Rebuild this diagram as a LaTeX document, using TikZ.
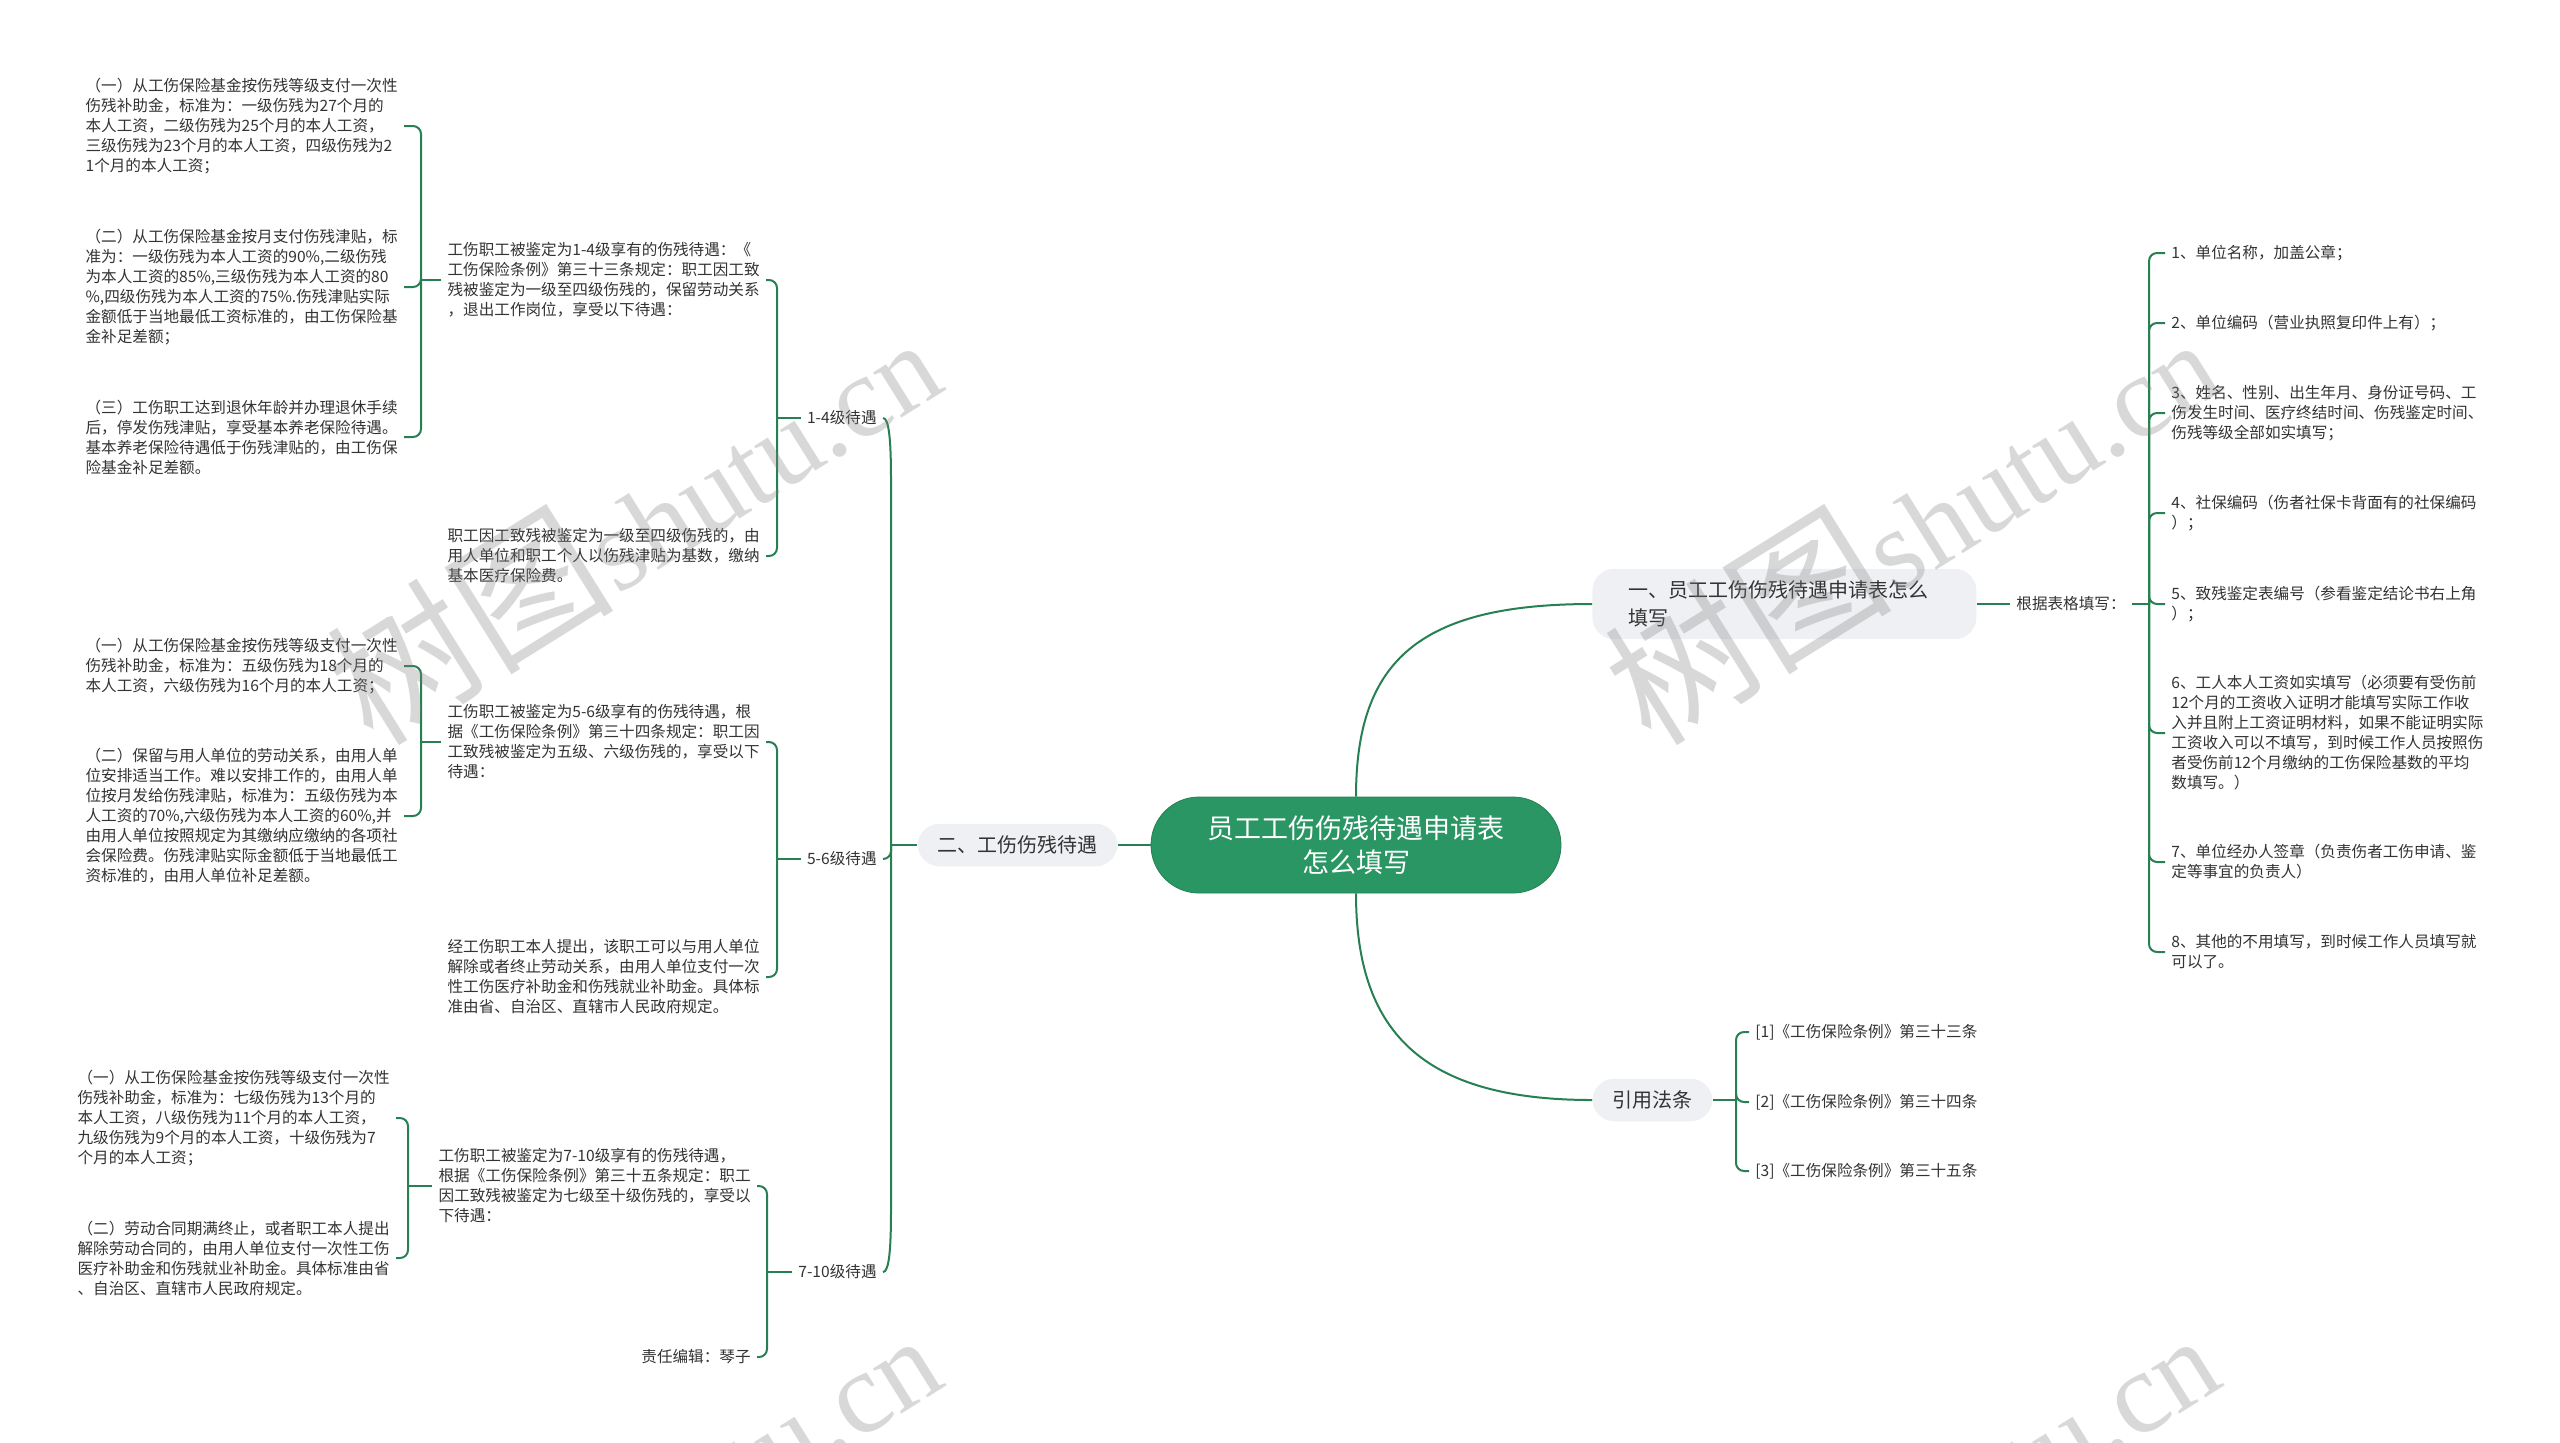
\documentclass[tikz,border=0pt]{standalone}
\usepackage{fontspec}
\setmainfont{Noto Sans CJK SC}
\newfontfamily\wmfont{Liberation Serif}
\usetikzlibrary{positioning,calc}
\definecolor{mmgreen}{RGB}{42,150,100}
\definecolor{mmline}{RGB}{38,128,82}
\definecolor{topicgray}{RGB}{238,240,243}
\definecolor{txtgray}{RGB}{51,51,51}

\begin{document}
\begin{tikzpicture}[
    x=0.5pt, y=-0.5pt,
    rootbox/.style={rectangle, rounded corners=24pt, fill=mmgreen, draw=mmgreen!85!black,
                    minimum width=205pt, minimum height=48pt, align=center, text=white,
                    font=\fontsize{13.5}{17}\selectfont},
    topic/.style={rectangle, rounded corners=11pt, fill=topicgray, inner xsep=10pt,
                  inner ysep=6pt, align=left, text=txtgray, font=\fontsize{10}{14}\selectfont},
    leaf/.style={inner xsep=3pt, inner ysep=2pt, align=left, text=txtgray,
                 font=\fontsize{7.8}{10}\selectfont},
    conn/.style={draw=mmline, line width=1pt},
    brk/.style={conn, rounded corners=4pt},
    wm/.style={rotate=32, text=gray, text opacity=0.3, font=\fontsize{58}{58}\selectfont}
]
\fill[white] (0,0) rectangle (2560,1442);
\useasboundingbox (0,0) rectangle (2560,1442);

% Centre and main topics
\node[rootbox] (root) at (1356,845) {员工工伤伤残待遇申请表\\怎么填写};
\node[topic, anchor=west, inner xsep=18pt, text width=156pt] (sec1) at (1592,604) {一、员工工伤伤残待遇申请表怎么\\填写};
\node[topic, anchor=east] (sec2) at (1118,845) {二、工伤伤残待遇};
\node[topic, anchor=west] (sec3) at (1592,1100) {引用法条};

% Right: form items
\node[leaf, anchor=west] (gen) at (2010,604) {根据表格填写：};
\node[leaf, anchor=west] (it1) at (2165,253) {1、单位名称，加盖公章；};
\node[leaf, anchor=west] (it2) at (2165,323) {2、单位编码（营业执照复印件上有）；};
\node[leaf, anchor=west] (it3) at (2165,413) {3、姓名、性别、出生年月、身份证号码、工\\伤发生时间、医疗终结时间、伤残鉴定时间、\\伤残等级全部如实填写；};
\node[leaf, anchor=west] (it4) at (2165,513) {4、社保编码（伤者社保卡背面有的社保编码\\）；};
\node[leaf, anchor=west] (it5) at (2165,604) {5、致残鉴定表编号（参看鉴定结论书右上角\\）；};
\node[leaf, anchor=west] (it6) at (2165,733) {6、工人本人工资如实填写（必须要有受伤前\\12个月的工资收入证明才能填写实际工作收\\入并且附上工资证明材料，如果不能证明实际\\工资收入可以不填写，到时候工作人员按照伤\\者受伤前12个月缴纳的工伤保险基数的平均\\数填写。）};
\node[leaf, anchor=west] (it7) at (2165,862) {7、单位经办人签章（负责伤者工伤申请、鉴\\定等事宜的负责人）};
\node[leaf, anchor=west] (it8) at (2165,952) {8、其他的不用填写，到时候工作人员填写就\\可以了。};

% Right: laws
\node[leaf, anchor=west] (law1) at (1749,1032) {[1]《工伤保险条例》第三十三条};
\node[leaf, anchor=west] (law2) at (1749,1102) {[2]《工伤保险条例》第三十四条};
\node[leaf, anchor=west] (law3) at (1749,1171) {[3]《工伤保险条例》第三十五条};

% Left: grades
\node[leaf, anchor=east] (lv14) at (883,418) {1-4级待遇};
\node[leaf, anchor=east] (lv56) at (883,859) {5-6级待遇};
\node[leaf, anchor=east] (lv710) at (883,1272) {7-10级待遇};

\node[leaf, anchor=east] (a1) at (766,280) {工伤职工被鉴定为1-4级享有的伤残待遇：《\\工伤保险条例》第三十三条规定：职工因工致\\残被鉴定为一级至四级伤残的，保留劳动关系\\，退出工作岗位，享受以下待遇：};
\node[leaf, anchor=east] (a2) at (766,556) {职工因工致残被鉴定为一级至四级伤残的，由\\用人单位和职工个人以伤残津贴为基数，缴纳\\基本医疗保险费。};
\node[leaf, anchor=east] (p1) at (404,126) {（一）从工伤保险基金按伤残等级支付一次性\\伤残补助金，标准为：一级伤残为27个月的\\本人工资，二级伤残为25个月的本人工资，\\三级伤残为23个月的本人工资，四级伤残为2\\1个月的本人工资；};
\node[leaf, anchor=east] (p2) at (404,287) {（二）从工伤保险基金按月支付伤残津贴，标\\准为：一级伤残为本人工资的90\%,二级伤残\\为本人工资的85\%,三级伤残为本人工资的80\\\%,四级伤残为本人工资的75\%.伤残津贴实际\\金额低于当地最低工资标准的，由工伤保险基\\金补足差额；};
\node[leaf, anchor=east] (p3) at (404,437) {（三）工伤职工达到退休年龄并办理退休手续\\后，停发伤残津贴，享受基本养老保险待遇。\\基本养老保险待遇低于伤残津贴的，由工伤保\\险基金补足差额。};

\node[leaf, anchor=east] (b1) at (766,742) {工伤职工被鉴定为5-6级享有的伤残待遇，根\\据《工伤保险条例》第三十四条规定：职工因\\工致残被鉴定为五级、六级伤残的，享受以下\\待遇：};
\node[leaf, anchor=east] (b2) at (766,977) {经工伤职工本人提出，该职工可以与用人单位\\解除或者终止劳动关系，由用人单位支付一次\\性工伤医疗补助金和伤残就业补助金。具体标\\准由省、自治区、直辖市人民政府规定。};
\node[leaf, anchor=east] (q1) at (404,666) {（一）从工伤保险基金按伤残等级支付一次性\\伤残补助金，标准为：五级伤残为18个月的\\本人工资，六级伤残为16个月的本人工资；};
\node[leaf, anchor=east] (q2) at (404,816) {（二）保留与用人单位的劳动关系，由用人单\\位安排适当工作。难以安排工作的，由用人单\\位按月发给伤残津贴，标准为：五级伤残为本\\人工资的70\%,六级伤残为本人工资的60\%,并\\由用人单位按照规定为其缴纳应缴纳的各项社\\会保险费。伤残津贴实际金额低于当地最低工\\资标准的，由用人单位补足差额。};

\node[leaf, anchor=east] (d1) at (757,1186) {工伤职工被鉴定为7-10级享有的伤残待遇，\\根据《工伤保险条例》第三十五条规定：职工\\因工致残被鉴定为七级至十级伤残的，享受以\\下待遇：};
\node[leaf, anchor=east] (d2) at (757,1357) {责任编辑：琴子};
\node[leaf, anchor=east] (e1) at (396,1118) {（一）从工伤保险基金按伤残等级支付一次性\\伤残补助金，标准为：七级伤残为13个月的\\本人工资，八级伤残为11个月的本人工资，\\九级伤残为9个月的本人工资，十级伤残为7\\个月的本人工资；};
\node[leaf, anchor=east] (e2) at (396,1258) {（二）劳动合同期满终止，或者职工本人提出\\解除劳动合同的，由用人单位支付一次性工伤\\医疗补助金和伤残就业补助金。具体标准由省\\、自治区、直辖市人民政府规定。};

% Junctions
\coordinate (jR) at (2149,604);
\coordinate (jLaw) at (1736,1100);
\coordinate (jL) at (891,845);
\coordinate (j14) at (777,418);
\coordinate (j56) at (777,859);
\coordinate (j710) at (767,1272);
\coordinate (ja1) at (421,280);
\coordinate (jb1) at (421,742);
\coordinate (jd1) at (408,1186);

% Connectors from the centre
\draw[conn] (root.north) .. controls (1356,660) and (1420,604) .. (sec1.west);
\draw[conn] (root.south) .. controls (1356,1030) and (1420,1100) .. (sec3.west);
\draw[conn] (root.west) -- (sec2.east);

% Right side
\draw[conn] (sec1.east) -- (gen.west);
\draw[conn] (gen.east) -- (jR);
\foreach \c in {it1,it2,it3,it4,it5,it6,it7,it8}
  \draw[brk] (jR) |- (\c.west);
\draw[conn] (sec3.east) -- (jLaw);
\foreach \c in {law1,law2,law3}
  \draw[brk] (jLaw) |- (\c.west);

% Left side
\draw[conn] (sec2.west) -- (jL);
\draw[conn] (jL) -- (891,480) .. controls (891,440) and (889,418) .. (lv14.east);
\draw[conn] (jL) -- (891,1210) .. controls (891,1250) and (889,1272) .. (lv710.east);
\draw[brk] (jL) |- (lv56.east);

\draw[conn] (lv14.west) -- (j14);
\draw[brk] (j14) |- (a1.east);
\draw[brk] (j14) |- (a2.east);
\draw[conn] (a1.west) -- (ja1);
\foreach \c in {p1,p2,p3}
  \draw[brk] (ja1) |- (\c.east);

\draw[conn] (lv56.west) -- (j56);
\draw[brk] (j56) |- (b1.east);
\draw[brk] (j56) |- (b2.east);
\draw[conn] (b1.west) -- (jb1);
\foreach \c in {q1,q2}
  \draw[brk] (jb1) |- (\c.east);

\draw[conn] (lv710.west) -- (j710);
\draw[brk] (j710) |- (d1.east);
\draw[brk] (j710) |- (d2.east);
\draw[conn] (d1.west) -- (jd1);
\foreach \c in {e1,e2}
  \draw[brk] (jd1) |- (\c.east);

% Watermarks
\node[wm] (wm1) at (632,522) {{\fontsize{72}{72}\selectfont 树图}{\wmfont shutu.cn}};
\node[wm] (wm2) at (1910,522) {{\fontsize{72}{72}\selectfont 树图}{\wmfont shutu.cn}};
\node[wm] (wm3) at (632,1518) {{\fontsize{72}{72}\selectfont 树图}{\wmfont shutu.cn}};
\node[wm] (wm4) at (1910,1518) {{\fontsize{72}{72}\selectfont 树图}{\wmfont shutu.cn}};

\end{tikzpicture}
\end{document}
